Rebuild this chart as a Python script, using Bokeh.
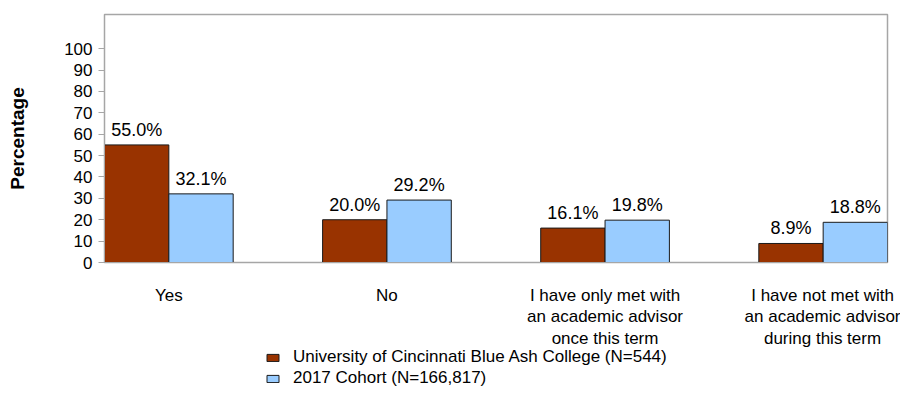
from bokeh.plotting import figure
from bokeh.layouts import column
from bokeh.models import (ColumnDataSource, FixedTicker, Legend, LegendItem, Range1d)
from bokeh.core.properties import value
from bokeh.embed import file_html
from bokeh.resources import INLINE

categories = ["Yes", "No",
              "I have only met with\nan academic advisor\nonce this term",
              "I have not met with\nan academic advisor\nduring this term"]
ucba = [55.0, 20.0, 16.1, 8.9]
cohort = [32.1, 29.2, 19.8, 18.8]
series_names = ["University of Cincinnati Blue Ash College (N=544)",
                "2017 Cohort (N=166,817)"]
colors = ["#993300", "#99CCFF"]
y_ticks = [0, 10, 20, 30, 40, 50, 60, 70, 80, 90, 100]

FONT = "Liberation Sans"
BW = 0.295
EDGE = "#1a1a1a"

xs = list(range(len(categories)))
src1 = ColumnDataSource(dict(x=[i - BW / 2 for i in xs], top=ucba,
                             lab=[f"{v:.1f}%" for v in ucba]))
src2 = ColumnDataSource(dict(x=[i + BW / 2 for i in xs], top=cohort,
                             lab=[f"{v:.1f}%" for v in cohort]))

p = figure(width=900, height=357, output_backend="svg", toolbar_location=None,
           x_range=Range1d(-BW, len(categories) - 1 + BW), y_range=Range1d(0, 116))
p.min_border_left = 104
p.min_border_top = 14
p.min_border_right = 13
p.min_border_bottom = 95
p.background_fill_color = "white"
p.border_fill_color = "white"
p.outline_line_color = "#a6a6a6"
p.outline_line_width = 1.5
p.grid.visible = False

p.vbar(x="x", top="top", width=BW, source=src1, fill_color=colors[0],
       line_color=EDGE, line_width=1)
p.vbar(x="x", top="top", width=BW, source=src2, fill_color=colors[1],
       line_color=EDGE, line_width=1)

for s in (src1, src2):
    p.text(x="x", y="top", text="lab", source=s, text_align="center",
           text_baseline="bottom", y_offset=-5, text_font=value(FONT),
           text_font_size="18px", text_color="black")

# y axis
ya = p.yaxis[0]
ya.ticker = FixedTicker(ticks=y_ticks)
ya.axis_line_color = "#a6a6a6"
ya.major_tick_line_color = "#a6a6a6"
ya.major_tick_out = 6
ya.major_tick_in = 0
ya.minor_tick_line_color = None
ya.major_label_text_font = FONT
ya.major_label_text_font_size = "17px"
ya.major_label_text_color = "black"
ya.major_label_standoff = 6
ya.axis_label = "Percentage"
ya.axis_label_text_font = FONT
ya.axis_label_text_font_size = "19px"
ya.axis_label_text_font_style = "bold"
ya.axis_label_text_color = "black"
ya.axis_label_standoff = 33

# x axis
xa = p.xaxis[0]
xa.ticker = FixedTicker(ticks=xs)
xa.major_label_overrides = {i: c for i, c in zip(xs, categories)}
xa.axis_line_color = "#a6a6a6"
xa.major_tick_line_color = None
xa.major_tick_out = 0
xa.major_tick_in = 0
xa.minor_tick_line_color = None
xa.major_label_text_font = FONT
xa.major_label_text_font_size = "17px"
xa.major_label_text_color = "black"
xa.major_label_text_line_height = 1.15
xa.major_label_standoff = 23

# legend strip (overlaps the bottom of the chart slightly)
q = figure(width=900, height=63, output_backend="svg", toolbar_location=None,
           x_range=Range1d(0, 1), y_range=Range1d(0, 1),
           x_axis_location=None, y_axis_location=None,
           margin=(-11, 0, 0, 0))
q.min_border = 0
q.outline_line_color = None
q.background_fill_alpha = 0
q.border_fill_alpha = 0
q.grid.visible = False
l1 = q.vbar(x=[-5], top=[0], width=0.1, fill_color=colors[0], line_color=EDGE)
l2 = q.vbar(x=[-5], top=[0], width=0.1, fill_color=colors[1], line_color=EDGE)

legend = Legend(items=[LegendItem(label=series_names[0], renderers=[l1]),
                       LegendItem(label=series_names[1], renderers=[l2])],
                location=(161, 21), orientation="vertical")
legend.background_fill_alpha = 0
legend.border_line_color = None
legend.label_text_font = FONT
legend.label_text_font_size = "17px"
legend.label_text_color = "black"
legend.glyph_width = 15
legend.glyph_height = 9
legend.label_height = 20
legend.spacing = 1
legend.label_standoff = 13
legend.padding = 0
legend.margin = 0
q.add_layout(legend)

open("out.html", "w").write(file_html(column(p, q, spacing=0), INLINE))
